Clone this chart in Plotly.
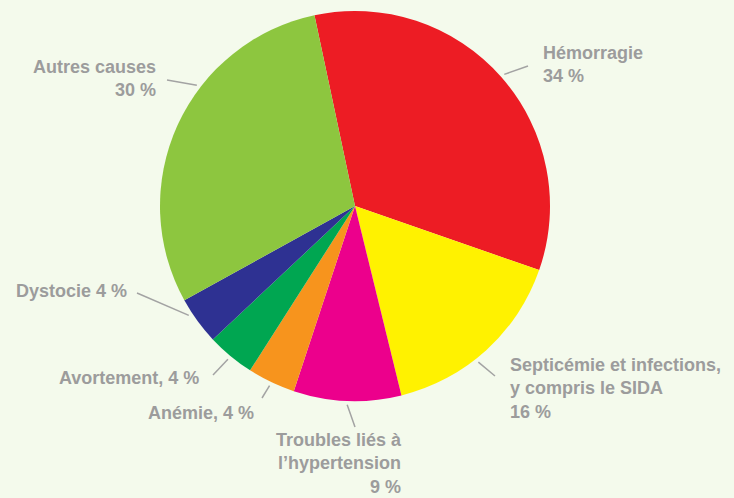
import math
import plotly.graph_objects as go

# ---- data ----
causes = [
    "Hémorragie",
    "Septicémie et infections, y compris le SIDA",
    "Troubles liés à l’hypertension",
    "Anémie",
    "Avortement",
    "Dystocie",
    "Autres causes",
]
shares = [34, 16, 9, 4, 4, 4, 30]
label_texts = [
    "Hémorragie<br>34 %",
    "Septicémie et infections,<br>y compris le SIDA<br>16 %",
    "Troubles liés à<br>l’hypertension<br>9 %",
    "Anémie, 4 %",
    "Avortement, 4 %",
    "Dystocie 4 %",
    "Autres causes<br>30 %",
]
colors = ["#ed1c24", "#fff200", "#ec008c", "#f7941d", "#00a651", "#2e3192", "#8dc63f"]

# ---- layout / style ----
W, H = 734, 498
CX, CY, R = 355, 206, 195          # pie centre and radius in pixels
ROTATION = -12                     # start angle of first slice (deg, clockwise from top)
BG = "#f4faec"
TEXT_COLOR = "#9c9c9c"
LINE_COLOR = "#a3a3a3"

# label placement: (x px, y px, xanchor, align), leader-line outer end (px), anchor fraction within slice
label_pos = [
    (541, 64, "left", "left"),
    (508, 388, "left", "left"),
    (404, 463, "right", "right"),
    (146, 413, "left", "left"),
    (57, 378, "left", "left"),
    (14, 291, "left", "left"),
    (158, 79, "right", "right"),
]
leader_end = [(528, 66), (495, 376), (355, 427), (262, 398), (213, 375), (137, 293), (167, 80)]
leader_frac = [0.5, 0.57, 0.5, 0.5, 0.5, 0.69, 0.62]


def px(x, y):
    return x / W, 1 - y / H


fig = go.Figure(
    go.Pie(
        labels=causes,
        values=shares,
        sort=False,
        direction="clockwise",
        rotation=ROTATION,
        marker=dict(colors=colors, line=dict(width=0)),
        textinfo="none",
        hoverinfo="label+percent",
        domain=dict(
            x=[(CX - R) / W, (CX + R) / W],
            y=[(H - CY - R) / H, (H - CY + R) / H],
        ),
    )
)

total = sum(shares)
start = ROTATION
shapes = []
annotations = []
for i, v in enumerate(shares):
    span = v / total * 360
    ang = math.radians(start + span * leader_frac[i])
    start += span
    x0 = CX + (R + 4) * math.sin(ang)
    y0 = CY - (R + 4) * math.cos(ang)
    x1, y1 = leader_end[i]
    a0 = px(x0, y0)
    a1 = px(x1, y1)
    shapes.append(dict(type="line", xref="paper", yref="paper",
                       x0=a0[0], y0=a0[1], x1=a1[0], y1=a1[1],
                       line=dict(color=LINE_COLOR, width=1.5)))
    lx, ly, xa, al = label_pos[i]
    p = px(lx, ly)
    annotations.append(dict(xref="paper", yref="paper", x=p[0], y=p[1],
                            xanchor=xa, yanchor="middle", align=al,
                            text=label_texts[i], showarrow=False,
                            font=dict(family="Liberation Sans, Arial", size=18,
                                      color=TEXT_COLOR, weight="bold")))

fig.update_layout(
    width=W, height=H,
    margin=dict(l=0, r=0, t=0, b=0),
    paper_bgcolor=BG, plot_bgcolor=BG,
    showlegend=False,
    shapes=shapes,
    annotations=annotations,
)

fig.write_html(
    "out.html",
    config={"displayModeBar": False},
    post_script="document.body.style.margin='0';document.body.style.overflow='hidden';",
)
